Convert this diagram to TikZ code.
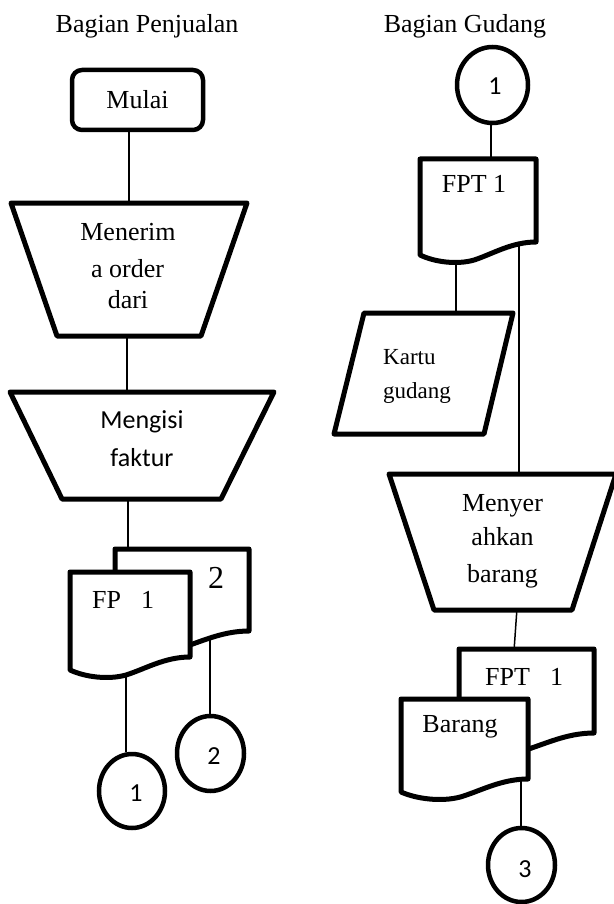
\documentclass[tikz,border=0pt]{standalone}
\usepackage{fontspec}
\setmainfont{Liberation Serif}
\newfontfamily\calib{Carlito}
\usetikzlibrary{shapes.geometric}
\newcommand\docshape[4]{%
  \filldraw[shp] (#1,#3) -- (#2,#3) -- (#2,#4)
    .. controls ({#1+0.79*(#2-#1)},#4) and ({#1+0.625*(#2-#1)},{#4+12}) ..
    ({#1+0.467*(#2-#1)},{#4+18})
    .. controls ({#1+0.317*(#2-#1)},{#4+23}) and ({#1+0.125*(#2-#1)},{#4+20}) ..
    (#1,{#4+13}) -- cycle;}
\begin{document}
\begin{tikzpicture}[x=1pt,y=-1pt,
  shp/.style={draw=black,fill=white,line width=5pt,line join=round},
  circ/.style={ellipse,draw=black,fill=white,line width=4.5pt,inner sep=0pt},
  conn/.style={draw=black,line width=1.5pt},
  tx/.style={font=\fontsize{26}{30}\selectfont,inner sep=0pt,anchor=base},
  ctx/.style={font=\calib\fontsize{26}{30}\selectfont,inner sep=0pt,anchor=base},
  num/.style={font=\calib\fontsize{26}{30}\selectfont,inner sep=0pt,anchor=base}]
\useasboundingbox (0,0) rectangle (613,904);

% connector end points
\coordinate (a1) at (129,128); \coordinate (a2) at (129,205);
\coordinate (b1) at (127,334); \coordinate (b2) at (127,394);
\coordinate (c1) at (128,497); \coordinate (c2) at (128,551);
\coordinate (d1) at (126,672); \coordinate (d2) at (126,752);
\coordinate (e1) at (210,636); \coordinate (e2) at (210,714);
\coordinate (f1) at (491,122); \coordinate (f2) at (491,161);
\coordinate (g1) at (456,258); \coordinate (g2) at (456,315);
\coordinate (h1) at (519,240); \coordinate (h2) at (519,476);
\coordinate (i1) at (517,608); \coordinate (i2) at (514,651);
\coordinate (j1) at (521,775); \coordinate (j2) at (521,827);

\foreach \p/\q in {a1/a2,b1/b2,c1/c2,d1/d2,e1/e2,f1/f2,g1/g2,h1/h2,i1/i2,j1/j2}
  \draw[conn] (\p) -- (\q);

% ---------- Bagian Penjualan ----------
\node[tx] (ttl1) at (147,33) {Bagian Penjualan};
\node[draw=black,fill=white,line width=4.5pt,rounded corners=10pt,
      minimum width=131pt,minimum height=60pt,inner sep=0pt,
      font=\fontsize{26}{30}\selectfont] (mulai) at (137.5,100) {Mulai};

\filldraw[shp] (11,203) -- (247,203) -- (201,336) -- (57,336) -- cycle;
\node[tx] (t1a) at (128,240) {Menerim};
\node[tx] (t1b) at (127.5,277) {a order};
\node[tx] (t1c) at (128,308) {dari};

\filldraw[shp] (10,392) -- (274,392) -- (221,499) -- (62,499) -- cycle;
\node[ctx] (t2a) at (142,428) {Mengisi};
\node[ctx] (t2b) at (142,466) {faktur};

\docshape{115}{249}{549}{631}
\node[tx,font=\fontsize{32}{36}\selectfont] (dok2) at (216,588) {2};
\docshape{70}{190}{572}{657}
\node[tx,anchor=base west] (fp1) at (92,608) {FP\hspace{20pt}1};

\node[circ,minimum width=66pt,minimum height=74pt] (k1) at (132,791) {};
\node[num] (k1t) at (136,801) {1};
\node[circ,minimum width=67pt,minimum height=75pt] (k2) at (210.5,753.5) {};
\node[num] (k2t) at (214,764) {2};

% ---------- Bagian Gudang ----------
\node[tx] (ttl2) at (465,33) {Bagian Gudang};
\node[circ,minimum width=71pt,minimum height=76pt] (k1r) at (492.5,85) {};
\node[num] (k1rt) at (495,95) {1};

\docshape{420}{536}{159}{242}
\node[tx] (fpt1) at (474,193) {FPT 1};

\filldraw[shp] (364,313) -- (513,313) -- (484,434) -- (334,434) -- cycle;
\node[tx,anchor=base west,font=\fontsize{23}{27}\selectfont] (kartu) at (383,364) {Kartu};
\node[tx,anchor=base west,font=\fontsize{23}{27}\selectfont] (gudang) at (383,398) {gudang};

\filldraw[shp] (389,474) -- (616,474) -- (572,610) -- (434,610) -- cycle;
\node[tx] (t3a) at (502.5,511) {Menyer};
\node[tx] (t3b) at (502.5,545) {ahkan};
\node[tx] (t3c) at (502.5,582) {barang};

\docshape{459}{594}{649}{733}
\node[tx,anchor=base west] (fpt2) at (485,685) {FPT\hspace{20pt}1};
\docshape{401}{528}{699}{779}
\node[tx] (barang) at (460,732) {Barang};

\node[circ,minimum width=67pt,minimum height=74pt] (k3) at (521.5,865) {};
\node[num] (k3t) at (525,877) {3};
\end{tikzpicture}
\end{document}
